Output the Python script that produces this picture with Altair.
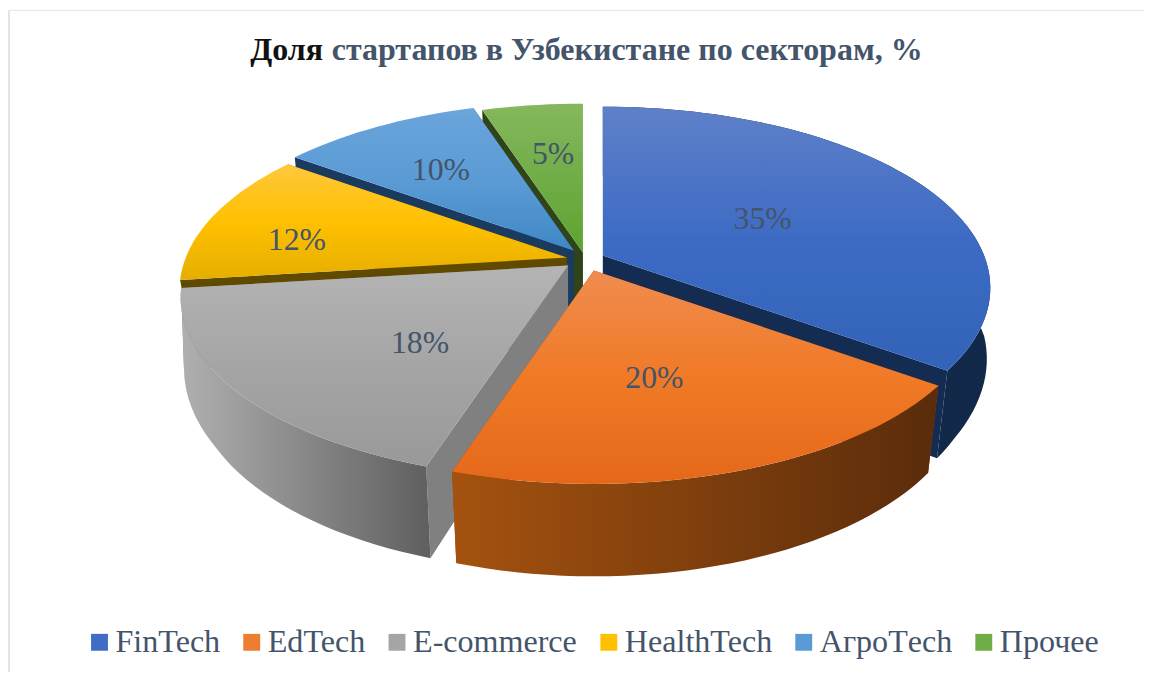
import math
import altair as alt

categories = ["FinTech", "EdTech", "E-commerce", "HealthTech", "АгроТech", "Прочее"]
shares = [35, 20, 18, 12, 10, 5]
labels = ["35%", "20%", "18%", "12%", "10%", "5%"]
legend_colors = ["#3f6cc4", "#ed7d31", "#a5a5a5", "#ffc000", "#5b9bd5", "#70ad47"]

top_stops = [
    ["#5f80c9", "#3d6bc4", "#3263b8"],
    ["#f08c50", "#f07a26", "#e5681a"],
    ["#b4b4b4", "#a5a5a5", "#999999"],
    ["#ffc83c", "#ffc000", "#e5ae00"],
    ["#6aa5db", "#5b9bd5", "#3f88c5"],
    ["#85b85c", "#70ad47", "#5fa32f"],
]
wall_left = ["#142c52", "#a5520f", "#b0b0b0", "#5f4a00", "#1a3a5e", "#2f4519"]
wall_right = ["#122848", "#5a2c0b", "#5f5f5f", "#5f4a00", "#1a3a5e", "#2f4519"]
cut_colors = ["#142c52", "#8f4710", "#808080", "#5f4a00", "#1a3a5e", "#2f4519"]
apex = [(604, 255), (595, 270), (569, 265), (568, 257), (575, 250), (584, 252)]
paint_order = [5, 4, 3, 0, 2, 1]
has_outer_wall = [True, True, True, False, False, False]
label_at = [(765, 228), (656, 388), (420, 353), (296, 249), (441, 179), (554, 163)]

A, B, K = 384.0, 176.7, 0.178
OFF_X, OFF_Y = 5, 8


def project(i, deg, r=1.0, bottom=False):
    t = math.radians(deg)
    X, Y = r * math.sin(t), r * math.cos(t)
    w = 1 + K * Y
    x, y = A * X / w, -B * Y / w
    if bottom:
        x *= 1 - 0.03 * min(1.0, max(0.0, -Y / 0.5))
        y += 81 - 12 * Y
    return [apex[i][0] - OFF_X + x, apex[i][1] - OFF_Y + y]


def arc(i, a0, a1, bottom=False):
    n = max(6, int((a1 - a0) / 2))
    return [project(i, a0 + (a1 - a0) * k / n, bottom=bottom) for k in range(n + 1)]


def feature(ring):
    return {
        "type": "Feature",
        "properties": {},
        "geometry": {"type": "Polygon", "coordinates": [ring + [ring[0]]]},
    }


def gradient(colors, horizontal=False):
    n = len(colors) - 1
    return {
        "gradient": "linear",
        "x1": 0, "y1": 0,
        "x2": 1 if horizontal else 0,
        "y2": 0 if horizontal else 1,
        "stops": [{"offset": k / n, "color": c} for k, c in enumerate(colors)],
    }


def shape(ring, fill):
    return (
        alt.Chart(alt.Data(values=[feature(ring)]))
        .mark_geoshape(fill=fill, strokeWidth=0)
        .project(type="identity", scale=1, translate=[0, 0])
    )


layers = []
starts = []
acc = 0
for s in shares:
    starts.append(acc)
    acc += s * 3.6

for i in paint_order:
    a0, a1 = starts[i], starts[i] + shares[i] * 3.6
    centre_top, centre_bot = project(i, 0, 0.0), project(i, 0, 0.0, True)
    inset = 1.0 if has_outer_wall[i] else 0.97
    for deg in (a0, a1):
        layers.append(shape(
            [centre_top, project(i, deg), project(i, deg, inset, True), centre_bot],
            cut_colors[i],
        ))
    if has_outer_wall[i]:
        outer = arc(i, a0, a1) + arc(i, a0, a1, True)[::-1]
        layers.append(shape(outer, gradient([wall_left[i], wall_right[i]], True)))
    layers.append(shape([centre_top] + arc(i, a0, a1), gradient(top_stops[i])))

# frame
layers.append(alt.Chart().mark_rule(color="#dfe3ec", strokeWidth=2).encode(
    x=alt.value(1), y=alt.value(0), y2=alt.value(666)))
layers.append(alt.Chart().mark_rule(color="#dfe3ec", strokeWidth=1).encode(
    x=alt.value(1), x2=alt.value(1144), y=alt.value(0)))


def text(s, x, y, size, color, weight="normal", align="left"):
    return alt.Chart(alt.Data(values=[{"t": s}])).mark_text(
        font="Liberation Serif", fontSize=size, color=color, fontWeight=weight,
        align=align, baseline="alphabetic",
    ).encode(text="t:N", x=alt.value(x - OFF_X), y=alt.value(y - OFF_Y))


layers.append(text("Доля", 249, 58, 32.2, "#111111", "bold"))
layers.append(text("стартапов в Узбекистане по секторам, %", 331, 58, 32.2, "#44546a", "bold"))
for lab, (x, y) in zip(labels, label_at):
    layers.append(text(lab, x, y, 32, "#44546a", align="center"))

legend_layer = alt.Chart(alt.Data(values=[{"c": c} for c in categories])).mark_square(size=0).encode(
    x=alt.value(0), y=alt.value(0),
    color=alt.Color(
        "c:N",
        scale=alt.Scale(domain=categories, range=legend_colors),
        sort=categories,
        legend=alt.Legend(
            title=None, orient="none", legendX=76, legendY=620, direction="horizontal",
            columns=6, symbolType="square", symbolSize=289, symbolStrokeWidth=0,
            symbolOpacity=1, labelFont="Liberation Serif", labelFontSize=32.3,
            labelColor="#44546a", labelOffset=0, columnPadding=15.3, labelLimit=400,
            padding=0,
        ),
    ),
)
layers.append(legend_layer)

chart = alt.layer(*layers).properties(
    width=1144, height=666, padding=0,
    autosize=alt.AutoSizeParams(type="none"),
    background="white",
).configure_view(stroke=None)

chart.save("out.html", embed_options={"renderer": "svg", "actions": False})
